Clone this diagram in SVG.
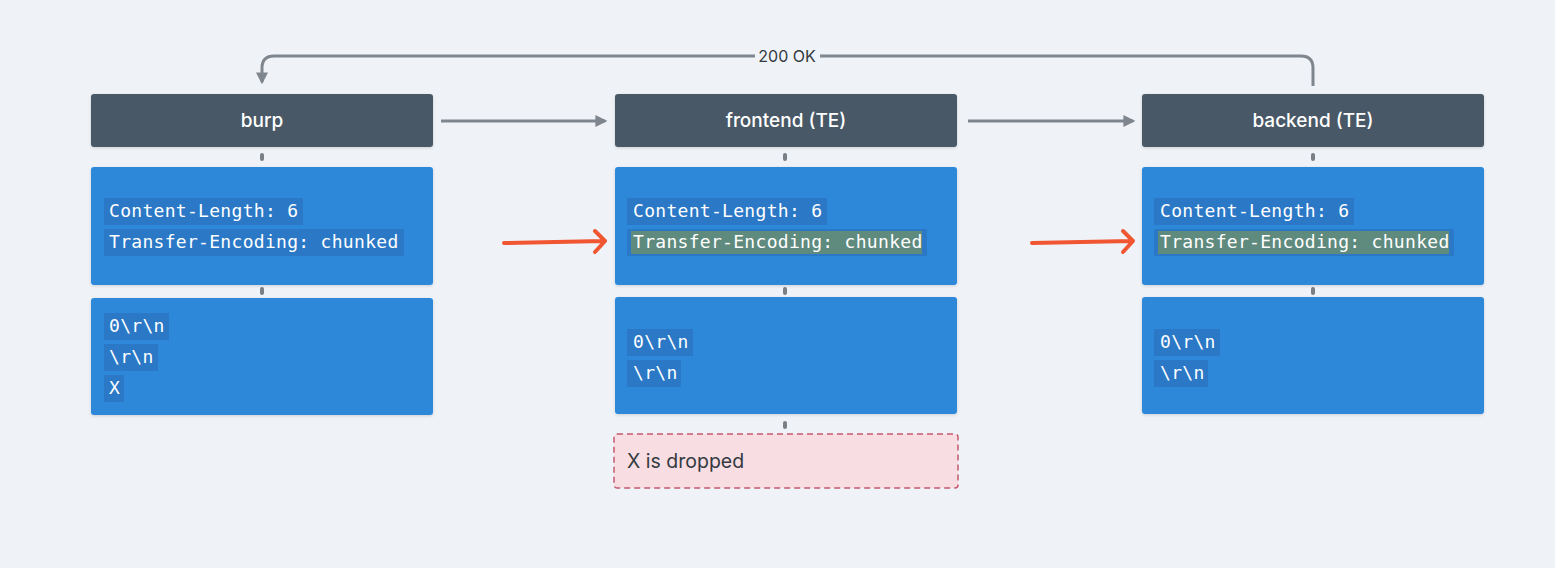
<svg xmlns="http://www.w3.org/2000/svg" width="1555" height="568" viewBox="0 0 1555 568">
<defs>
<style>
.hdr{fill:#4a5966;}
.blue{fill:#2d88d9;}
.hl{fill:#2a78c6;}
.hlg{fill:#5f8a7e;}
.htxt{font-family:Inter,"Noto Sans",sans-serif;font-size:19px;font-weight:500;fill:#ffffff;text-anchor:middle;}
.mono{font-family:"DejaVu Sans Mono","Liberation Mono",monospace;font-size:18px;letter-spacing:0.3px;fill:#ffffff;}
.dot{fill:#7a7f86;}
.conn{stroke:#80868d;stroke-width:3;fill:none;}
.red{stroke:#f05632;stroke-width:4;fill:none;stroke-linecap:round;stroke-linejoin:round;}
</style>
<marker id="ah" viewBox="0 0 10 10" refX="8" refY="5" markerWidth="4" markerHeight="4" orient="auto">
<path d="M0,0 L10,5 L0,10 z" fill="#80868d"/>
</marker>
<filter id="sh" x="-5%" y="-10%" width="110%" height="130%">
<feDropShadow dx="0" dy="1" stdDeviation="1.5" flood-color="#000" flood-opacity="0.15"/>
</filter>
</defs>
<rect width="1555" height="568" fill="#eff3f8"/>

<g id="connectors">
<line class="conn" x1="441" y1="121" x2="605" y2="121" marker-end="url(#ah)"/>
<line class="conn" x1="968" y1="121" x2="1133" y2="121" marker-end="url(#ah)"/>
<path class="conn" d="M1313,86 L1313,68 Q1313,56 1301,56 L274,56 Q262,56 262,68 L262,82" marker-end="url(#ah)"/>
<rect x="755" y="45" width="65" height="22" fill="#eff3f8"/>
<text x="787" y="62" font-family="Inter,'Noto Sans',sans-serif" font-size="16" fill="#333a40" text-anchor="middle">200 OK</text>
<path class="red" d="M504,243 L603,241 M595,231 L605,241 L595,252"/>
<path class="red" d="M1032,243 L1131,241 M1123,231 L1133,241 L1123,252"/>
<rect class="dot" x="260" y="153" width="4" height="8" rx="2"/>
<rect class="dot" x="260" y="287" width="4" height="8" rx="2"/>
<rect class="dot" x="783" y="153" width="4" height="8" rx="2"/>
<rect class="dot" x="783" y="287" width="4" height="8" rx="2"/>
<rect class="dot" x="783" y="421" width="4" height="8" rx="2"/>
<rect class="dot" x="1311" y="153" width="4" height="8" rx="2"/>
<rect class="dot" x="1311" y="287" width="4" height="8" rx="2"/>
</g>

<g id="burp">
<rect class="hdr" x="91" y="94" width="342" height="53" rx="3" filter="url(#sh)"/>
<text class="htxt" x="262" y="127">burp</text>
</g>
<g id="burp-headers">
<rect class="blue" x="91" y="167" width="342" height="118" rx="3" filter="url(#sh)"/>
<rect class="hl" x="104" y="198" width="199" height="27"/>
<rect class="hl" x="104" y="229" width="300" height="27"/>
<text class="mono" x="109" y="217">Content-Length: 6</text>
<text class="mono" x="109" y="248">Transfer-Encoding: chunked</text>
</g>
<g id="burp-body">
<rect class="blue" x="91" y="298" width="342" height="117" rx="3" filter="url(#sh)"/>
<rect class="hl" x="104" y="313" width="65" height="27"/>
<rect class="hl" x="104" y="344" width="54" height="27"/>
<rect class="hl" x="104" y="375" width="20" height="27"/>
<text class="mono" x="109" y="332">0\r\n</text>
<text class="mono" x="109" y="363">\r\n</text>
<text class="mono" x="109" y="394">X</text>
</g>

<g id="frontend">
<rect class="hdr" x="615" y="94" width="342" height="53" rx="3" filter="url(#sh)"/>
<text class="htxt" x="786" y="127">frontend (TE)</text>
</g>
<g id="frontend-headers">
<rect class="blue" x="615" y="167" width="342" height="118" rx="3" filter="url(#sh)"/>
<rect class="hl" x="627" y="198" width="200" height="27"/>
<rect class="hl" x="627" y="229" width="300" height="27"/>
<rect class="hlg" x="631" y="231" width="291" height="23"/>
<text class="mono" x="633" y="217">Content-Length: 6</text>
<text class="mono" x="633" y="248">Transfer-Encoding: chunked</text>
</g>
<g id="frontend-body">
<rect class="blue" x="615" y="297" width="342" height="117" rx="3" filter="url(#sh)"/>
<rect class="hl" x="627" y="329" width="66" height="27"/>
<rect class="hl" x="627" y="360" width="54" height="27"/>
<text class="mono" x="633" y="348">0\r\n</text>
<text class="mono" x="633" y="379">\r\n</text>
</g>
<g id="dropped">
<rect x="614" y="434" width="344" height="54" rx="3" fill="#f8dde2" stroke="#c35a6c" stroke-width="1.5" stroke-dasharray="6 4"/>
<text x="627" y="468" font-family="Inter,'Noto Sans',sans-serif" font-size="19.5" fill="#333a40">X is dropped</text>
</g>

<g id="backend">
<rect class="hdr" x="1142" y="94" width="342" height="53" rx="3" filter="url(#sh)"/>
<text class="htxt" x="1313" y="127">backend (TE)</text>
</g>
<g id="backend-headers">
<rect class="blue" x="1142" y="167" width="342" height="118" rx="3" filter="url(#sh)"/>
<rect class="hl" x="1154" y="198" width="200" height="27"/>
<rect class="hl" x="1154" y="229" width="300" height="27"/>
<rect class="hlg" x="1158" y="231" width="291" height="23"/>
<text class="mono" x="1160" y="217">Content-Length: 6</text>
<text class="mono" x="1160" y="248">Transfer-Encoding: chunked</text>
</g>
<g id="backend-body">
<rect class="blue" x="1142" y="297" width="342" height="117" rx="3" filter="url(#sh)"/>
<rect class="hl" x="1154" y="329" width="66" height="27"/>
<rect class="hl" x="1154" y="360" width="54" height="27"/>
<text class="mono" x="1160" y="348">0\r\n</text>
<text class="mono" x="1160" y="379">\r\n</text>
</g>
</svg>
